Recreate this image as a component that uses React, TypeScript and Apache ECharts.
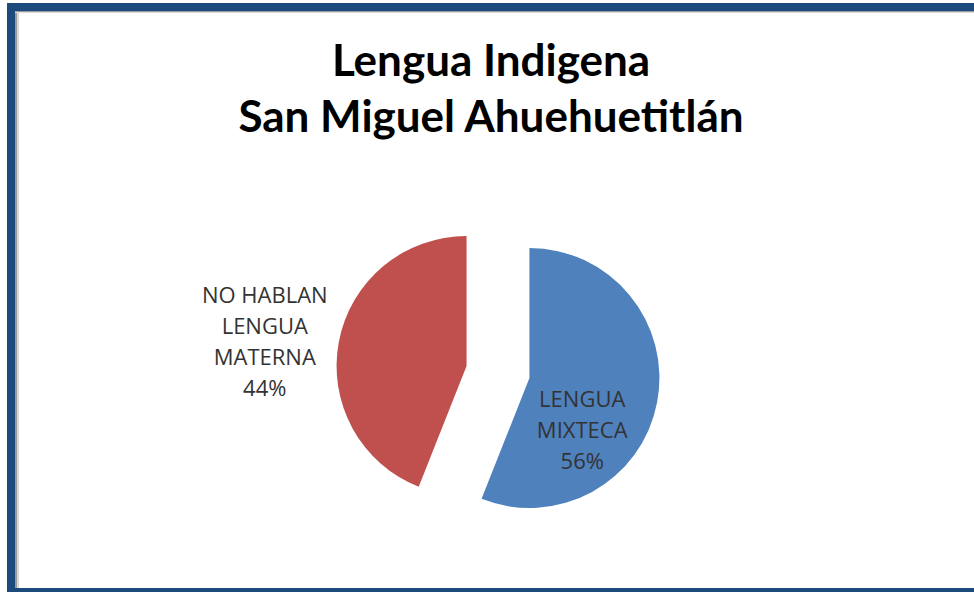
import React, { useEffect, useRef } from "react";
import * as echarts from "echarts";

const titleLines = ["Lengua Indigena", "San Miguel Ahuehuetitlán"];
const categories = ["LENGUA\nMIXTECA", "NO HABLAN\nLENGUA\nMATERNA"];
const values = [56, 44];
const colors = ["#4F81BD", "#C0504D"];

export default function App() {
  const ref = useRef<HTMLDivElement>(null);
  useEffect(() => {
    if (!ref.current) return;
    const chart = echarts.init(ref.current, null, { renderer: "svg" });
    chart.setOption({
      animation: false,
      backgroundColor: "#ffffff",
      title: {
        text: titleLines.join("\n"),
        left: 486,
        top: 26,
        textAlign: "center",
        textStyle: {
          fontFamily: "Lato",
          fontWeight: "bold",
          fontSize: 44,
          lineHeight: 56,
          color: "#000000",
        },
      },
      graphic: [
        { type: "rect", shape: { x: 7, y: 3, width: 967, height: 8 }, style: { fill: "#1D4A7C" }, silent: true },
        { type: "rect", shape: { x: 7, y: 3, width: 8, height: 589 }, style: { fill: "#1D4A7C" }, silent: true },
        { type: "rect", shape: { x: 7, y: 588, width: 967, height: 4 }, style: { fill: "#1D4A7C" }, silent: true },
        { type: "rect", shape: { x: 15, y: 11, width: 2, height: 577 }, style: { fill: "#9a9a9a" }, silent: true },
        { type: "rect", shape: { x: 17, y: 11, width: 2, height: 577 }, style: { fill: "#d8d8d8" }, silent: true },
        { type: "rect", shape: { x: 15, y: 11, width: 959, height: 1 }, style: { fill: "#9a9a9a" }, silent: true },
        { type: "rect", shape: { x: 15, y: 12, width: 959, height: 1 }, style: { fill: "#dcdcdc" }, silent: true },
      ],
      series: [
        {
          type: "pie",
          center: [498, 372],
          radius: 130,
          startAngle: 90,
          clockwise: true,
          selectedMode: "multiple",
          selectedOffset: 32,
          emphasis: { disabled: true },
          label: {
            show: true,
            position: "inside",
            formatter: "{b}\n{d}%",
            fontFamily: "Open Sans",
            fontSize: 22,
            lineHeight: 31,
            color: "#333333",
            align: "center",
          },
          labelLine: { show: false },
          labelLayout: (p: any) =>
            p.dataIndex === 0 ? { dx: -14, dy: 38 } : { dx: -135, dy: -13 },
          data: categories.map((c, i) => ({
            name: c,
            value: values[i],
            selected: true,
            itemStyle: { color: colors[i] },
          })),
        },
      ],
    });
    return () => chart.dispose();
  }, []);
  return (
    <div
      ref={ref}
      style={{ position: "fixed", left: 0, top: 0, width: 974, height: 592 }}
    />
  );
}
